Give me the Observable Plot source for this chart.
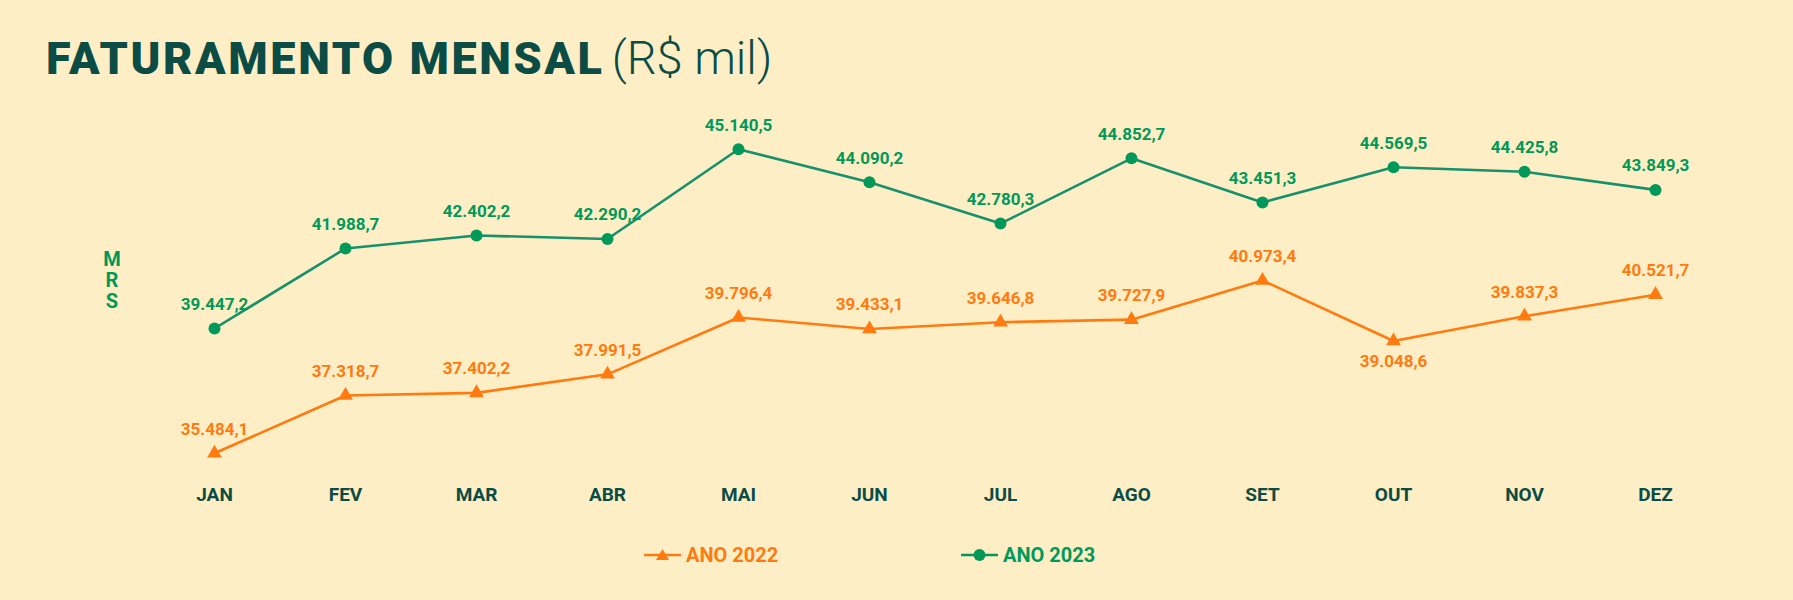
<!DOCTYPE html>
<html>
<head>
<meta charset="utf-8">
<script src="https://cdn.jsdelivr.net/npm/d3@7"></script>
<script src="https://cdn.jsdelivr.net/npm/@observablehq/plot@0.6"></script>
<style>
  html, body { margin: 0; padding: 0; background: #FEEEC5; }
  #wrap { position: relative; width: 1793px; height: 600px; background: #FEEEC5; font-family: Roboto, "Noto Sans", sans-serif; overflow: hidden; }
  #title { position: relative; height: 100px; }
  #title .t { position: absolute; left: 46px; top: 35px; font-size: 45px; line-height: 45px; color: #0B4C45; white-space: nowrap; }
  #title .b { font-weight: 900; letter-spacing: 2.6px; }
  #title .l { font-weight: 300; font-size: 47px; letter-spacing: 0px; margin-left: -4px; }
  #ylab { position: absolute; left: 103px; top: 249px; width: 18px; text-align: center; color: #00995A; font-weight: 700; font-size: 20px; line-height: 21px; }
  #legend { position: relative; height: 60px; }
  .item { position: absolute; top: 3px; display: flex; align-items: center; font-weight: 700; font-size: 20px; }
  .item svg { margin-right: 5px; }
</style>
</head>
<body>
<div id="wrap">
  <div id="title"><div class="t"><span class="b">FATURAMENTO MENSAL</span> <span class="l">(R$ mil)</span></div></div>
  <div id="ylab">M<br>R<br>S</div>
  <div id="chart"></div>
  <div id="legend"></div>
</div>
<script>
const months = ["JAN","FEV","MAR","ABR","MAI","JUN","JUL","AGO","SET","OUT","NOV","DEZ"];
const ano2022 = [35484.1, 37318.7, 37402.2, 37991.5, 39796.4, 39433.1, 39646.8, 39727.9, 40973.4, 39048.6, 39837.3, 40521.7];
const ano2023 = [39447.2, 41988.7, 42402.2, 42290.2, 45140.5, 44090.2, 42780.3, 44852.7, 43451.3, 44569.5, 44425.8, 43849.3];
const seriesNames = ["ANO 2022", "ANO 2023"];
const labelsBelow2022 = ["OUT"];

const ORANGE = "#FF7B10";
const GREEN = "#00995A";
const GREEN_LINE = "#16916B";
const DARK = "#0B4C45";

function fmt(v) {
  const s = v.toFixed(1);
  const [int, dec] = s.split(".");
  const withDots = int.replace(/\B(?=(\d{3})+(?!\d))/g, ".");
  return withDots + "," + dec;
}

const d22 = months.map((m, i) => ({month: m, value: ano2022[i]}));
const d23 = months.map((m, i) => ({month: m, value: ano2023[i]}));

const chart = Plot.plot({
  width: 1793,
  height: 440,
  marginTop: 0,
  marginBottom: 65,
  marginLeft: 0,
  marginRight: 0,
  style: {background: "transparent", fontFamily: "Roboto, sans-serif", overflow: "visible"},
  x: {type: "point", domain: months, range: [211.5, 1657], padding: 0, label: null, axis: null},
  y: {domain: [35000, 46000], range: [368, 21.7], axis: null},
  marks: [
    Plot.axisX({tickSize: 0, tickPadding: 12, fontSize: 19, fontWeight: 700, color: DARK, label: null}),
    Plot.line(d22, {x: "month", y: "value", stroke: ORANGE, strokeWidth: 2.6}),
    Plot.dot(d22, {x: "month", y: "value", symbol: "triangle", fill: ORANGE, r: 5.5}),
    Plot.text(d22, {filter: d => !labelsBelow2022.includes(d.month), x: "month", y: "value", text: d => fmt(d.value), dy: -24, fill: ORANGE, fontSize: 17, fontWeight: 700}),
    Plot.text(d22, {filter: d => labelsBelow2022.includes(d.month), x: "month", y: "value", text: d => fmt(d.value), dy: 21, fill: ORANGE, fontSize: 17, fontWeight: 700}),
    Plot.line(d23, {x: "month", y: "value", stroke: GREEN_LINE, strokeWidth: 2.6}),
    Plot.dot(d23, {x: "month", y: "value", fill: GREEN, r: 6}),
    Plot.text(d23, {x: "month", y: "value", text: d => fmt(d.value), dy: -24, fill: GREEN, fontSize: 17, fontWeight: 700})
  ]
});
document.getElementById("chart").append(chart);

// legend
const legend = document.getElementById("legend");
const items = [
  {name: seriesNames[0], color: ORANGE, symbol: "triangle", left: 644},
  {name: seriesNames[1], color: GREEN, symbol: "circle", left: 961}
];
items.forEach(it => {
  const div = document.createElement("div");
  div.className = "item";
  div.style.left = it.left + "px";
  div.style.color = it.color;
  const sym = it.symbol === "triangle"
    ? `<path d="M18.5,6 L25,17 L12,17 Z" fill="${it.color}"/>`
    : `<circle cx="18.5" cy="12" r="6" fill="${it.color}"/>`;
  div.innerHTML = `<svg width="37" height="24" viewBox="0 0 37 24"><line x1="0" x2="37" y1="12" y2="12" stroke="${it.color}" stroke-width="2.6"/>${sym}</svg><span>${it.name}</span>`;
  legend.append(div);
});
</script>
</body>
</html>
